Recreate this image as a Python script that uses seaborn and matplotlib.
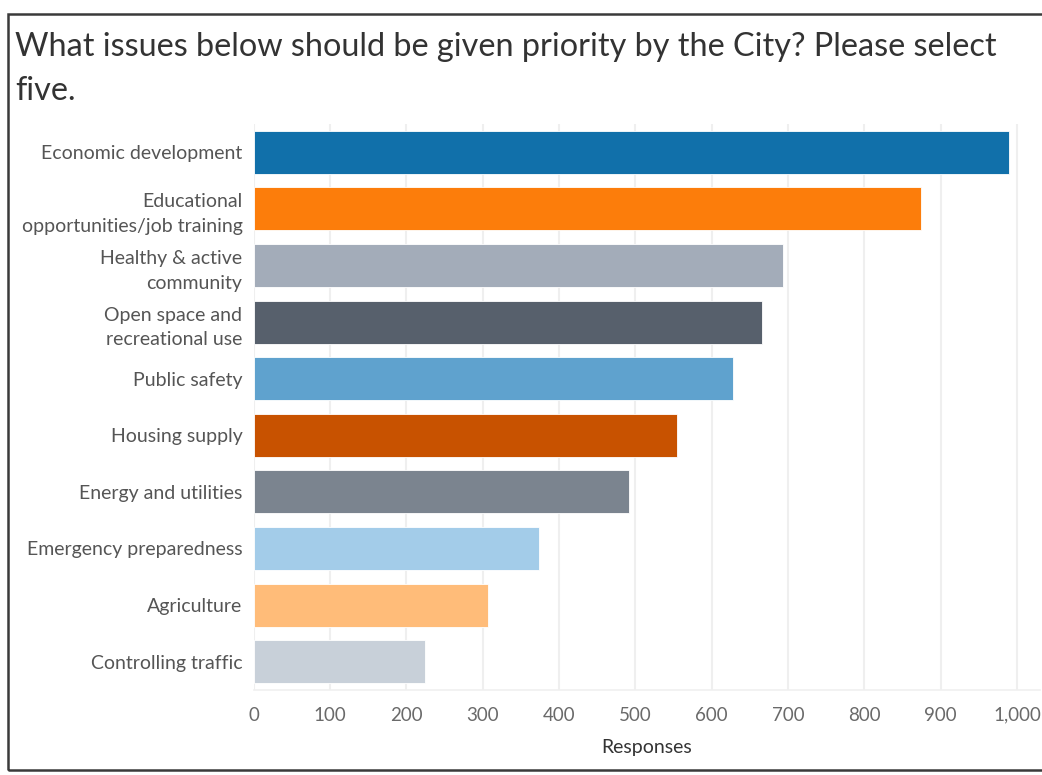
import matplotlib
matplotlib.use("Agg")
import matplotlib.pyplot as plt
from matplotlib.patches import Rectangle
from matplotlib.ticker import FuncFormatter, MultipleLocator
import pandas as pd
import seaborn as sns

# Survey priorities and number of responses
issues = [
    "Economic development",
    "Educational\nopportunities/job training",
    "Healthy & active\ncommunity",
    "Open space and\nrecreational use",
    "Public safety",
    "Housing supply",
    "Energy and utilities",
    "Emergency preparedness",
    "Agriculture",
    "Controlling traffic",
]
responses = [990, 874, 694, 666, 628, 554, 492, 374, 307, 225]
bar_colors = [
    "#1170aa", "#fc7d0b", "#a3acb9", "#57606c", "#5fa2ce",
    "#c85200", "#7b848f", "#a3cce9", "#ffbc79", "#c8d0d9",
]
title_text = "What issues below should be given priority by the City? Please select\nfive."
x_label = "Responses"

df = pd.DataFrame({"issue": issues, "responses": responses})

sns.set_theme(style="white")
plt.rcParams["font.family"] = ["Lato", "DejaVu Sans"]

W, H = 1042, 775
fig = plt.figure(figsize=(W / 100, H / 100), dpi=100)
fig.patch.set_facecolor("white")

ax = fig.add_axes([253.5 / W, (H - 690) / H, (1040 - 253.5) / W, (690 - 124) / H])

sns.barplot(
    data=df, x="responses", y="issue", hue="issue", palette=bar_colors,
    order=issues, hue_order=issues, orient="h", width=0.76, legend=False,
    saturation=1, edgecolor="white", linewidth=0.6, ax=ax, zorder=3,
)

ax.set_xlim(0, 1030)
ax.xaxis.set_major_locator(MultipleLocator(100))
ax.xaxis.set_major_formatter(FuncFormatter(lambda v, _: f"{int(v):,}" if v <= 1000 else ""))
ax.grid(axis="x", color="#efefef", linewidth=1.5, zorder=0)
ax.grid(axis="y", visible=False)
ax.set_axisbelow(True)

for side in ("top", "right", "left"):
    ax.spines[side].set_visible(False)
ax.spines["bottom"].set_color("#f0f0f0")
ax.spines["bottom"].set_linewidth(1.2)

ax.tick_params(axis="x", colors="#e6e6e6", length=6, width=1, pad=6, labelcolor="#6a6a6a", labelsize=13.5)
ax.tick_params(axis="y", length=0, pad=8, labelcolor="#555555", labelsize=14)
for lbl in ax.get_yticklabels():
    lbl.set_linespacing(1.55)

ax.set_ylabel("")
ax.set_xlabel(x_label, fontsize=14, color="#333333", labelpad=11)

# title and frame
fig.text(15 / W, 1 - 32 / H, title_text, ha="left", va="top", fontsize=23.3,
         color="#333333", linespacing=1.6)
fig.patches.append(Rectangle((8 / W, (H - 770) / H), 1.05, (770 - 14) / H,
                             transform=fig.transFigure, fill=False,
                             edgecolor="#3a3a3a", linewidth=1.8, clip_on=False))

fig.savefig("out.png", dpi=100, facecolor="white")
